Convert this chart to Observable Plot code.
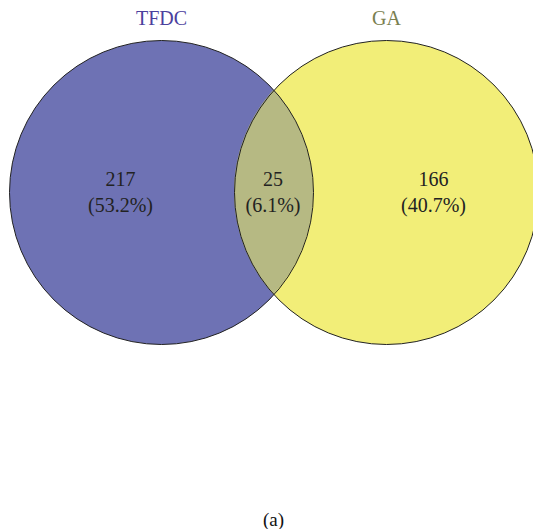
<!DOCTYPE html>
<html>
<head>
<meta charset="utf-8">
<script src="https://cdn.jsdelivr.net/npm/d3@7"></script>
<script src="https://cdn.jsdelivr.net/npm/@observablehq/plot@0.6"></script>
<style>
  html, body { margin: 0; padding: 0; background: #fff; overflow: hidden; }
</style>
</head>
<body>
<div id="chart"></div>
<script>
// Two-set Venn diagram: overlap between TFDC and GA
const setNames = ["TFDC", "GA"];
const regionNames = ["TFDC only", "TFDC ∩ GA", "GA only"];
const regionCounts = [217, 25, 166];

// Layout (pixel units; x/y scales are identity-like)
const W = 533, H = 529;
const R = 152;
const cy = 192;
const centersX = [161, 386];
const labelX = [120, 272.5, 433];
const labelY = 190.5;

const fills = ["#6e72b4", "#f2ee78"];
const lensFill = "#b6b983";
const titleColors = ["#4b409d", "#7a8050"];

const total = d3.sum(regionCounts);
const pct = d3.format(".1%");

const circles = setNames.map((name, i) => ({name, x: centersX[i], y: cy, fill: fills[i], color: titleColors[i]}));
const regions = regionNames.map((name, i) => ({
  name,
  x: labelX[i],
  y: labelY,
  text: `${regionCounts[i]}\n(${pct(regionCounts[i] / total)})`
}));

// Lens (intersection) outline: between the two circle boundaries
const [xl, xr] = centersX;
const half = (xr - xl) / 2;
const h = Math.sqrt(R * R - half * half);
const lens = d3.range(0, 201).map(k => {
  const y = cy - h + (2 * h) * k / 200;
  const dx = Math.sqrt(Math.max(0, R * R - (y - cy) ** 2));
  return {y, x1: xr - dx, x2: xl + dx};
});

const chart = Plot.plot({
  width: W,
  height: H,
  margin: 0,
  x: {domain: [0, W], range: [0, W], axis: null},
  y: {domain: [0, H], range: [0, H], axis: null},
  style: {fontFamily: "'Liberation Serif', 'DejaVu Serif', serif", background: "#fff"},
  marks: [
    Plot.dot(circles, {x: "x", y: "y", r: R, fill: d => d.fill, stroke: "none"}),
    Plot.areaX(lens, {y: "y", x1: "x1", x2: "x2", fill: lensFill, curve: "linear"}),
    Plot.dot(circles, {x: "x", y: "y", r: R, fill: "none", stroke: "#222", strokeWidth: 1}),
    Plot.text(regions, {x: "x", y: "y", text: "text", fontSize: 20, lineHeight: 1.28, fill: "#222"}),
    Plot.text(circles, {x: "x", y: 18, text: "name", fontSize: 20, fill: d => d.color}),
    Plot.text(["(a)"], {x: 273, y: 519, text: d => d, fontSize: 19, fill: "#111"})
  ]
});

document.getElementById("chart").appendChild(chart);
</script>
</body>
</html>
